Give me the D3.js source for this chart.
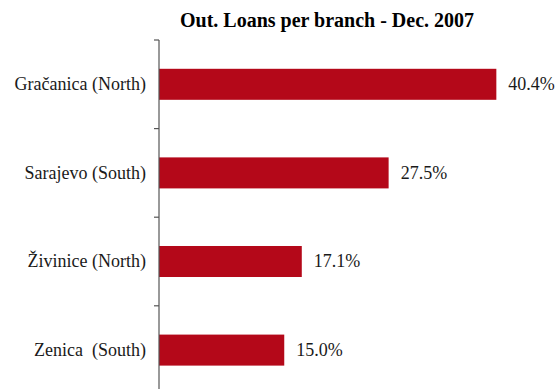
<!DOCTYPE html>
<html>
<head>
<meta charset="utf-8">
<script src="https://cdn.jsdelivr.net/npm/d3@7"></script>
<style>
  html, body { margin: 0; padding: 0; background: #fff; }
  svg { display: block; }
</style>
</head>
<body>
<svg id="chart" width="556" height="389"></svg>
<script>
// Branch share of outstanding loans, December 2007
const branches = ["Gračanica (North)", "Sarajevo (South)", "Živinice (North)", "Zenica  (South)"];
const shares = [40.4, 27.5, 17.1, 15.0];
const title = "Out. Loans per branch - Dec. 2007";

const svg = d3.select("#chart");
const W = 556, H = 389;
const axisX = 159;
const plotTop = 40;
const step = 88.6;

const y = d3.scaleBand()
  .domain(branches)
  .range([plotTop, plotTop + step * branches.length])
  .paddingInner(0.65)
  .paddingOuter(0.325);

const x = d3.scaleLinear()
  .domain([0, 50])
  .range([axisX, axisX + 8.35 * 50]);

const serif = "'Liberation Serif', 'Times New Roman', Times, serif";

// Title
svg.append("text")
  .attr("x", 327)
  .attr("y", 27)
  .attr("text-anchor", "middle")
  .attr("font-family", serif)
  .attr("font-weight", "bold")
  .attr("font-size", 20)
  .attr("fill", "#000")
  .text(title);

// Bars
svg.append("g").selectAll("rect")
  .data(branches)
  .join("rect")
  .attr("x", x(0))
  .attr("y", d => y(d))
  .attr("width", (d, i) => x(shares[i]) - x(0))
  .attr("height", y.bandwidth())
  .attr("fill", "#B40819");

// Value labels
svg.append("g").selectAll("text")
  .data(branches)
  .join("text")
  .attr("x", (d, i) => x(shares[i]) + 12)
  .attr("y", d => y(d) + y.bandwidth() / 2)
  .attr("dy", "0.33em")
  .attr("font-family", serif)
  .attr("font-size", 18)
  .attr("fill", "#1a1a1a")
  .text((d, i) => d3.format(".1f")(shares[i]) + "%");

// Category axis: line with ticks on the band boundaries
const axisG = svg.append("g");
axisG.append("line")
  .attr("x1", axisX).attr("x2", axisX)
  .attr("y1", plotTop).attr("y2", H + 10)
  .attr("stroke", "#555")
  .attr("stroke-width", 1.2);

const boundaries = d3.range(branches.length + 1).map(i => plotTop + i * y.step());
axisG.selectAll("line.tick")
  .data(boundaries)
  .join("line")
  .attr("class", "tick")
  .attr("x1", axisX - 5).attr("x2", axisX)
  .attr("y1", d => d).attr("y2", d => d)
  .attr("stroke", "#555")
  .attr("stroke-width", 1.2);

// Category labels
axisG.selectAll("text")
  .data(branches)
  .join("text")
  .attr("x", axisX - 13)
  .attr("y", d => y(d) + y.bandwidth() / 2)
  .attr("dy", "0.33em")
  .attr("text-anchor", "end")
  .attr("font-family", serif)
  .attr("font-size", 18)
  .attr("fill", "#1a1a1a")
  .style("white-space", "pre")
  .text(d => d);
</script>
</body>
</html>
